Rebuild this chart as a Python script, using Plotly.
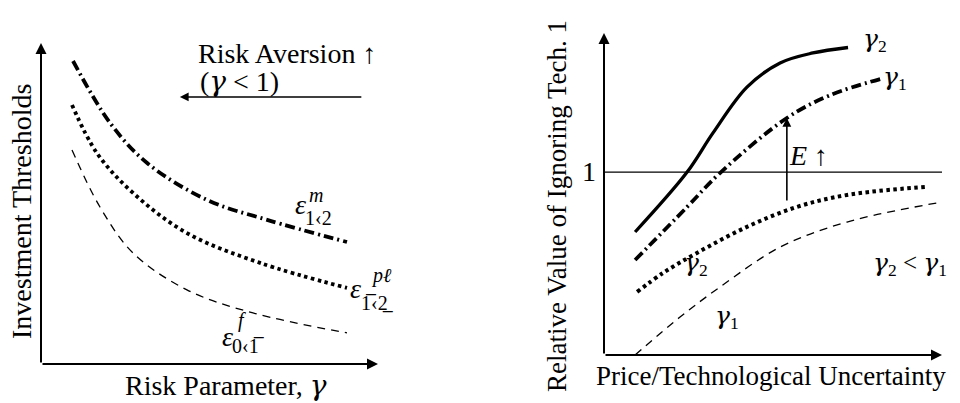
import plotly.graph_objects as go

W, H = 960, 403
FONT = "Liberation Serif"

# ---------------- data (schematic, in axis units 0..10) ----------------
# Left panel: investment thresholds vs risk parameter gamma
gamma_x = [0.95, 2.05, 3.15, 4.93, 6.71, 9.08]
eps_m = [9.44, 7.51, 6.26, 5.11, 4.49, 3.80]
gamma_x_pl = [0.92, 1.66, 2.73, 4.33, 6.50, 9.08]
eps_pl = [8.07, 6.57, 5.33, 4.08, 3.15, 2.37]
gamma_x_f = [0.92, 1.75, 2.73, 4.33, 6.29, 9.08]
eps_f = [6.67, 4.89, 3.46, 2.31, 1.59, 0.97]

# Right panel: relative value of ignoring tech 1 vs uncertainty
unc_solid = [0.92, 2.46, 3.22, 4.23, 5.21, 6.18, 7.22]
val_solid = [3.82, 5.68, 6.89, 8.32, 9.07, 9.38, 9.55]
unc_dashdot = [0.92, 2.46, 3.43, 5.41, 6.69, 8.17]
val_dashdot = [2.95, 4.60, 5.65, 7.36, 8.07, 8.57]
unc_dot = [0.98, 1.75, 2.75, 4.23, 5.71, 7.19, 9.50]
val_dot = [1.96, 2.55, 3.17, 3.98, 4.60, 4.97, 5.22]
unc_dash = [0.92, 2.25, 3.43, 5.21, 7.19, 10.0]
val_dash = [0.00, 1.18, 2.11, 3.35, 4.13, 4.75]
one_level = 5.68
one_x = [0, 10]

# E-arrow (at uncertainty 5.41)
e_x = 5.41
e_from, e_to = 4.75, 7.36
# risk-aversion arrow (left panel)
ra_from, ra_to, ra_y = 9.55, 4.12, 8.32


def px(x):
    return x / W


def py(y):
    return 1 - y / H


fig = go.Figure()

DASHDOT = "10px,4px,2px,4px"
DOT = "3.5px,3.5px"
DASH = "8px,6px"

# left panel curves
fig.add_trace(go.Scatter(x=gamma_x, y=eps_m, mode="lines", line=dict(color="black", width=3.8, dash=DASHDOT, shape="spline"), xaxis="x", yaxis="y"))
fig.add_trace(go.Scatter(x=gamma_x_pl, y=eps_pl, mode="lines", line=dict(color="black", width=3.8, dash=DOT, shape="spline"), xaxis="x", yaxis="y"))
fig.add_trace(go.Scatter(x=gamma_x_f, y=eps_f, mode="lines", line=dict(color="black", width=1.3, dash=DASH, shape="spline"), xaxis="x", yaxis="y"))

# right panel curves
fig.add_trace(go.Scatter(x=one_x, y=[one_level, one_level], mode="lines", line=dict(color="black", width=1.4), xaxis="x2", yaxis="y2"))
fig.add_trace(go.Scatter(x=unc_solid, y=val_solid, mode="lines", line=dict(color="black", width=3.3, shape="spline"), xaxis="x2", yaxis="y2"))
fig.add_trace(go.Scatter(x=unc_dashdot, y=val_dashdot, mode="lines", line=dict(color="black", width=3.8, dash=DASHDOT, shape="spline"), xaxis="x2", yaxis="y2"))
fig.add_trace(go.Scatter(x=unc_dot, y=val_dot, mode="lines", line=dict(color="black", width=4, dash=DOT, shape="spline"), xaxis="x2", yaxis="y2"))
fig.add_trace(go.Scatter(x=unc_dash, y=val_dash, mode="lines", line=dict(color="black", width=1.3, dash=DASH, shape="spline"), xaxis="x2", yaxis="y2"))

ann = []


def arrow(xr, yr, x, y, ax, ay, width=2):
    ann.append(dict(xref=xr, yref=yr, axref=xr, ayref=yr, x=x, y=y, ax=ax, ay=ay,
                    showarrow=True, arrowhead=2, arrowsize=1.1, arrowwidth=width,
                    arrowcolor="black", text=""))


# axes
arrow("x", "y", 10, 0, 0, 0)
arrow("x", "y", 0, 10, 0, 0)
arrow("x2", "y2", 10, 0, 0, 0)
arrow("x2", "y2", 0, 10, 0, 0)
# risk aversion arrow and E arrow
arrow("x", "y", ra_to, ra_y, ra_from, ra_y, width=1.6)
arrow("x2", "y2", e_x, e_to, e_x, e_from, width=1.6)


def txt(x, y, s, size=28, xanchor="center", angle=0):
    ann.append(dict(xref="paper", yref="paper", x=px(x), y=py(y), text=s, showarrow=False,
                    xanchor=xanchor, yanchor="middle", textangle=angle,
                    font=dict(family=FONT, size=size, color="black")))


G = '<span style="font-family:DejaVu Serif;font-style:italic">γ</span>'

# titles
txt(226, 385, "Risk Parameter, " + G)
txt(21, 212, "Investment Thresholds", angle=-90)
txt(771, 376, "Price/Technological Uncertainty", size=27)
txt(557, 206, "Relative Value of Ignoring Tech. 1", size=27, angle=-90)

# left annotations
txt(196, 53, "Risk Aversion ↑", xanchor="left")
txt(198, 81, "(" + G + " &lt; 1)", xanchor="left")

# epsilon labels
txt(300, 204, "<i>ε</i>", size=28)
txt(316, 195, "<i>m</i>", size=20)
txt(318, 218, "1‹2", size=20)

txt(355, 288, "<i>ε</i>", size=28)
txt(381, 275, "<i>pℓ</i>", size=20)
txt(377, 303, "1\u0305‹2\u0332", size=20)

txt(227, 336, "<i>ε</i>", size=28)
txt(242, 320, "<i>f</i>", size=20)
txt(248, 346, "0‹1\u0305", size=20)

# right annotations
txt(589, 171, "1")
txt(808, 155, "<i>E</i> ↑")
txt(875, 40, G + "<sub>2</sub>", size=25)
txt(895, 78, G + "<sub>1</sub>", size=25)
txt(696, 264, G + "<sub>2</sub>", size=25)
txt(910, 264, G + "<sub>2</sub> &lt; " + G + "<sub>1</sub>", size=25)
txt(727, 317, G + "<sub>1</sub>", size=25)

ax_common = dict(visible=False, range=[0, 10], fixedrange=True)
fig.update_layout(
    width=W, height=H, margin=dict(l=0, r=0, t=0, b=0, pad=0, autoexpand=False),
    paper_bgcolor="white", plot_bgcolor="white", showlegend=False,
    xaxis=dict(domain=[41 / W, 378 / W], **ax_common),
    yaxis=dict(domain=[py(364), py(43)], **ax_common),
    xaxis2=dict(domain=[604 / W, 942 / W], **ax_common),
    yaxis2=dict(domain=[py(355), py(33)], **ax_common),
    annotations=ann,
)

fig.write_html(
    "out.html",
    config={"displayModeBar": False},
    post_script="document.body.style.margin='0';document.body.style.overflow='hidden';",
)
